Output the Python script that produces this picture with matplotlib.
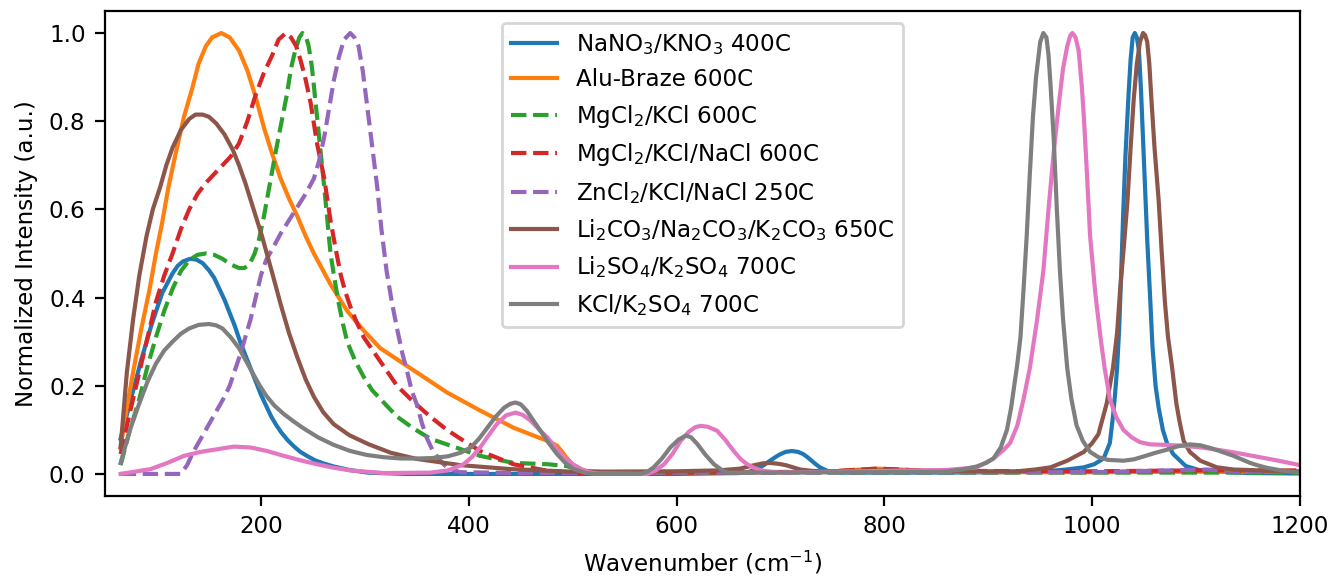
import matplotlib
matplotlib.use('Agg')
import matplotlib.pyplot as plt

# Raman spectra of molten salts
nano3_x = [65, 75, 85, 95, 105, 115, 120, 125, 132, 138, 144, 150, 155, 160, 165, 170, 175, 180, 185, 190, 195, 200, 205,
           210, 215, 220, 226, 232, 238, 245, 252, 260, 270, 285, 303, 340, 400,
           600, 660, 670, 678, 684, 690, 695, 700, 705, 711, 717, 722, 726, 730, 734, 738, 745, 760, 850, 920,
           960, 975, 992, 1002, 1011, 1017, 1020, 1022, 1024, 1026, 1028, 1030, 1032, 1035, 1037, 1039, 1041, 1043, 1045,
           1047, 1050, 1053, 1056, 1058, 1061, 1064, 1068, 1072, 1078, 1090, 1104, 1150, 1200]
nano3_y = [0.08, 0.17, 0.26, 0.34, 0.41, 0.455, 0.472, 0.482, 0.488, 0.486, 0.478, 0.462, 0.445, 0.42, 0.395, 0.365, 0.335,
           0.3, 0.27, 0.24, 0.21, 0.18, 0.155, 0.13, 0.11, 0.093, 0.076, 0.062, 0.05, 0.04, 0.031, 0.024, 0.017, 0.009, 0.003,
           0.0, 0.0,
           0.0, 0.002, 0.005, 0.012, 0.02, 0.03, 0.038, 0.045, 0.05, 0.052, 0.05, 0.045, 0.038, 0.03, 0.022, 0.015, 0.007,
           0.003, 0.003, 0.004,
           0.007, 0.01, 0.015, 0.022, 0.035, 0.07, 0.13, 0.18, 0.24, 0.33, 0.46, 0.6, 0.72, 0.86, 0.94, 0.99, 1.0, 0.99, 0.96,
           0.87, 0.7, 0.53, 0.39, 0.29, 0.2, 0.15, 0.1, 0.07, 0.045, 0.018, 0.008, 0.002, 0.001]

alu_x = [65, 71, 77, 85, 93, 99, 105, 111, 118, 126, 134, 140, 147, 153, 162, 170, 179, 187, 195, 203, 211, 219, 227, 235,
         243, 251, 267, 283, 299, 315, 347, 379, 410, 443, 469, 477, 485, 490, 494, 500, 508, 516, 524, 600, 745, 770, 793,
         815, 841, 900, 1000, 1100, 1200]
alu_y = [0.06, 0.15, 0.23, 0.33, 0.42, 0.5, 0.57, 0.65, 0.727, 0.81, 0.875, 0.93, 0.97, 0.99, 1.0, 0.99, 0.96, 0.915, 0.855,
         0.785, 0.725, 0.67, 0.625, 0.585, 0.54, 0.5, 0.43, 0.37, 0.325, 0.285, 0.235, 0.185, 0.145, 0.105, 0.081, 0.074,
         0.064, 0.05, 0.037, 0.022, 0.011, 0.005, 0.002, 0.003, 0.005, 0.009, 0.012, 0.01, 0.007, 0.004, 0.004, 0.005, 0.006]

mgkcl_x = [65, 74, 83, 91, 99, 107, 115, 123, 131, 139, 147, 155, 163, 171, 179, 184, 189, 194, 198, 203, 208, 215, 220, 225,
           229, 233, 237, 240, 243, 246, 249, 251, 256, 261, 264, 267, 271, 275, 279, 283, 291, 299, 307, 315, 331, 347, 363,
           379, 411, 443, 476, 494, 508, 540, 1200]
mgkcl_y = [0.02, 0.1, 0.17, 0.245, 0.31, 0.37, 0.42, 0.46, 0.485, 0.497, 0.5, 0.497, 0.488, 0.475, 0.467, 0.467, 0.475, 0.5,
           0.53, 0.585, 0.65, 0.74, 0.8, 0.86, 0.92, 0.96, 0.99, 1.0, 0.995, 0.97, 0.925, 0.88, 0.765, 0.65, 0.575, 0.5, 0.44,
           0.386, 0.34, 0.3, 0.255, 0.22, 0.19, 0.17, 0.13, 0.103, 0.08, 0.067, 0.041, 0.025, 0.022, 0.018, 0.007, 0.003,
           0.003]

mgnacl_x = [65, 74, 83, 91, 99, 107, 115, 123, 131, 139, 147, 155, 163, 171, 179, 187, 195, 203, 211, 217, 224, 229, 234, 238,
            243, 248, 254, 261, 267, 272, 277, 281, 286, 292, 299, 315, 331, 347, 363, 379, 392, 411, 443, 476, 508, 600, 745,
            770, 793, 815, 841, 1000, 1100, 1200]
mgnacl_y = [0.045, 0.14, 0.23, 0.31, 0.39, 0.45, 0.5, 0.555, 0.6, 0.635, 0.66, 0.68, 0.7, 0.72, 0.75, 0.8, 0.86, 0.91, 0.95,
            0.985, 1.0, 0.99, 0.97, 0.94, 0.895, 0.84, 0.75, 0.67, 0.575, 0.51, 0.45, 0.415, 0.38, 0.345, 0.31, 0.255, 0.2,
            0.163, 0.13, 0.1, 0.08, 0.052, 0.022, 0.007, 0.002, 0.003, 0.005, 0.009, 0.012, 0.01, 0.007, 0.006, 0.008, 0.008]

zncl_x = [65, 123, 129, 135, 141, 147, 153, 159, 165, 170, 175, 180, 185, 190, 195, 200, 205, 211, 219, 227, 235, 243, 251, 256,
          261, 265, 270, 275, 280, 286, 290, 294, 298, 302, 307, 312, 316, 321, 326, 331, 336, 341, 345, 350, 355, 360, 365,
          370, 375, 379, 386, 392, 450, 600, 1000, 1110, 1150, 1200]
zncl_y = [0.0, 0.0, 0.02, 0.05, 0.075, 0.1, 0.125, 0.15, 0.175, 0.2, 0.235, 0.27, 0.31, 0.35, 0.4, 0.45, 0.485, 0.51, 0.545,
          0.575, 0.605, 0.635, 0.67, 0.71, 0.765, 0.82, 0.89, 0.945, 0.985, 1.0, 0.99, 0.97, 0.915, 0.84, 0.745, 0.65, 0.555,
          0.46, 0.39, 0.33, 0.275, 0.23, 0.19, 0.158, 0.115, 0.08, 0.055, 0.038, 0.024, 0.015, 0.008, 0.004, 0.002, 0.003,
          0.004, 0.01, 0.005, 0.005]

carb_x = [65, 71, 77, 83, 90, 96, 103, 109, 115, 123, 131, 137, 144, 150, 157, 165, 173, 179, 185, 193, 201, 211, 219, 227,
          235, 243, 251, 260, 270, 285, 303, 325, 350, 392, 440, 500, 600, 640, 661, 668, 675, 683, 690, 698, 705, 712, 719,
          730, 740, 800, 900, 928, 945, 960, 976, 992, 1000, 1006, 1014, 1020, 1024, 1027, 1031, 1034, 1037, 1040, 1043, 1046,
          1049, 1051, 1053, 1055, 1057, 1060, 1064, 1067, 1070, 1073, 1077, 1081, 1084, 1088, 1094, 1104, 1120, 1136, 1200]
carb_y = [0.06, 0.23, 0.35, 0.45, 0.54, 0.6, 0.65, 0.7, 0.74, 0.78, 0.805, 0.815, 0.815, 0.81, 0.795, 0.77, 0.735, 0.7, 0.66,
          0.6, 0.54, 0.455, 0.385, 0.32, 0.265, 0.215, 0.175, 0.14, 0.113, 0.088, 0.068, 0.048, 0.034, 0.02, 0.011, 0.005,
          0.006, 0.008, 0.012, 0.016, 0.02, 0.024, 0.025, 0.023, 0.02, 0.015, 0.01, 0.007, 0.006, 0.008, 0.006, 0.006, 0.01,
          0.015, 0.03, 0.05, 0.07, 0.09, 0.16, 0.24, 0.32, 0.42, 0.53, 0.62, 0.74, 0.85, 0.93, 0.98, 1.0, 0.995, 0.98, 0.93,
          0.85, 0.74, 0.62, 0.5, 0.39, 0.31, 0.24, 0.16, 0.12, 0.075, 0.05, 0.03, 0.015, 0.01, 0.005]

sulf_x = [65, 94, 110, 126, 142, 158, 174, 190, 206, 222, 238, 254, 270, 286, 318, 363, 380, 395, 403, 411, 419, 427, 436, 445,
          452, 460, 468, 476, 484, 492, 500, 508, 516, 524, 572, 580, 588, 596, 604, 612, 618, 623, 630, 639, 647, 655, 662,
          668, 676, 684, 700, 860, 889, 905, 915, 921, 928, 934, 940, 947, 953, 958, 963, 968, 972, 976, 979, 981, 984, 987,
          990, 992, 995, 998, 1003, 1008, 1012, 1017, 1023, 1030, 1038, 1046, 1056, 1070, 1087, 1105, 1120, 1136, 1152, 1175,
          1200]
sulf_y = [0.0, 0.011, 0.025, 0.041, 0.05, 0.056, 0.062, 0.06, 0.052, 0.041, 0.031, 0.022, 0.014, 0.008, 0.002, 0.003, 0.008,
          0.022, 0.038, 0.06, 0.087, 0.113, 0.133, 0.139, 0.134, 0.12, 0.1, 0.082, 0.058, 0.037, 0.022, 0.011, 0.004, 0.001,
          0.0, 0.008, 0.022, 0.045, 0.075, 0.096, 0.106, 0.109, 0.107, 0.098, 0.077, 0.052, 0.033, 0.022, 0.012, 0.007, 0.003,
          0.009, 0.015, 0.035, 0.055, 0.07, 0.11, 0.17, 0.24, 0.35, 0.46, 0.6, 0.73, 0.84, 0.92, 0.97, 0.995, 1.0, 0.99, 0.96,
          0.88, 0.81, 0.68, 0.54, 0.41, 0.31, 0.24, 0.17, 0.13, 0.1, 0.083, 0.072, 0.067, 0.066, 0.064, 0.06, 0.055, 0.049,
          0.042, 0.032, 0.02]

kcl_x = [65, 74, 83, 91, 99, 107, 115, 123, 131, 140, 150, 157, 163, 171, 179, 186, 193, 199, 205, 213, 222, 231, 240, 255,
         270, 286, 302, 318, 335, 350, 365, 380, 392, 402, 410, 418, 426, 434, 440, 445, 450, 456, 462, 469, 477, 485, 493,
         501, 510, 520, 565, 572, 578, 586, 594, 602, 609, 614, 620, 628, 636, 643, 649, 700, 857, 875, 889, 898, 905, 912,
         918, 922, 925, 928, 931, 934, 937, 940, 943, 946, 950, 953, 956, 958, 960, 963, 966, 969, 972, 976, 980, 985, 991,
         998, 1006, 1015, 1030, 1040, 1050, 1061, 1072, 1083, 1094, 1104, 1115, 1125, 1136, 1144, 1152, 1160, 1168, 1184,
         1200]
kcl_y = [0.025, 0.1, 0.16, 0.21, 0.25, 0.28, 0.3, 0.318, 0.33, 0.338, 0.34, 0.337, 0.33, 0.31, 0.285, 0.255, 0.225, 0.2, 0.178,
         0.155, 0.136, 0.12, 0.105, 0.083, 0.066, 0.052, 0.043, 0.038, 0.035, 0.035, 0.036, 0.04, 0.048, 0.06, 0.08, 0.105,
         0.13, 0.15, 0.159, 0.162, 0.158, 0.143, 0.122, 0.098, 0.07, 0.045, 0.025, 0.011, 0.004, 0.0, 0.0, 0.005, 0.015, 0.035,
         0.06, 0.078, 0.087, 0.083, 0.068, 0.043, 0.022, 0.01, 0.003, 0.003, 0.005, 0.01, 0.017, 0.025, 0.035, 0.06, 0.1,
         0.15, 0.2, 0.25, 0.31, 0.42, 0.54, 0.68, 0.81, 0.9, 0.98, 1.0, 0.99, 0.95, 0.88, 0.76, 0.6, 0.46, 0.35, 0.24, 0.17,
         0.11, 0.075, 0.05, 0.038, 0.032, 0.03, 0.033, 0.04, 0.048, 0.055, 0.063, 0.067, 0.065, 0.058, 0.05, 0.041, 0.033,
         0.025, 0.019, 0.014, 0.007, 0.003]

labels = ['NaNO$_3$/KNO$_3$ 400C', 'Alu-Braze 600C', 'MgCl$_2$/KCl 600C', 'MgCl$_2$/KCl/NaCl 600C',
          'ZnCl$_2$/KCl/NaCl 250C', 'Li$_2$CO$_3$/Na$_2$CO$_3$/K$_2$CO$_3$ 650C', 'Li$_2$SO$_4$/K$_2$SO$_4$ 700C',
          'KCl/K$_2$SO$_4$ 700C']


def plot_spectra(save_path='out.png'):
    plt.rcParams['font.size'] = 8.3
    dpi = 200
    fig = plt.figure(figsize=(1331 / dpi, 578 / dpi), dpi=dpi)
    ax = fig.add_axes([0.0789, 0.1419, 0.8978, 0.8391])

    series = [(nano3_x, nano3_y, '-'), (alu_x, alu_y, '-'), (mgkcl_x, mgkcl_y, '--'),
              (mgnacl_x, mgnacl_y, '--'), (zncl_x, zncl_y, '--'), (carb_x, carb_y, '-'),
              (sulf_x, sulf_y, '-'), (kcl_x, kcl_y, '-')]
    for i, (xs, ys, ls) in enumerate(series):
        ax.plot(xs, ys, ls, color=f'C{i}', label=labels[i])

    ax.set_xlim(50, 1200)
    ax.set_ylim(-0.05, 1.05)
    ax.set_xlabel('Wavenumber (cm$^{-1}$)')
    ax.set_ylabel('Normalized Intensity (a.u.)')
    ax.legend(loc='upper center')

    fig.savefig(save_path, dpi=dpi)
    plt.close(fig)


if __name__ == "__main__":
    plot_spectra()
